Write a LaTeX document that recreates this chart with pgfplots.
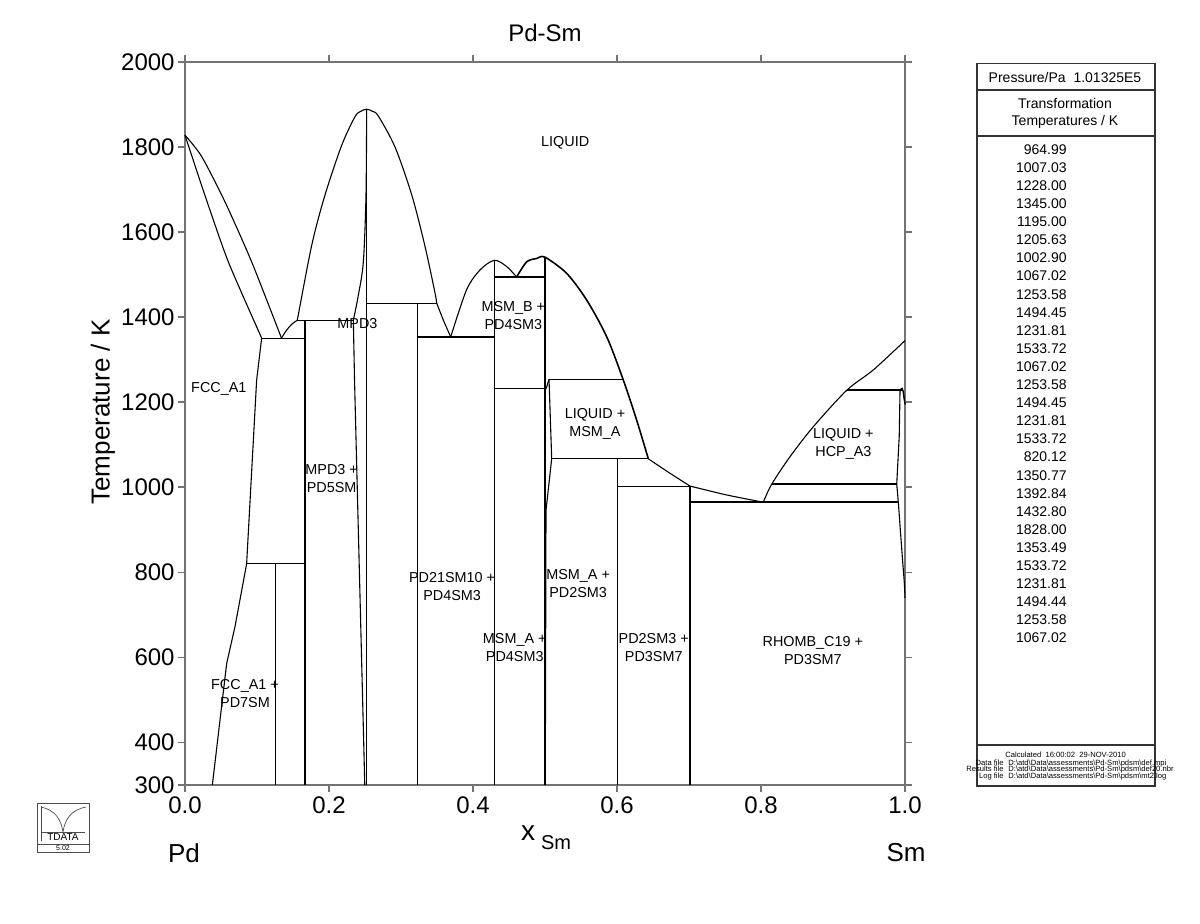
\documentclass[border=0pt]{standalone}
\usepackage{fontspec}
\setmainfont{Liberation Sans}
\usepackage{pgfplots}
\pgfplotsset{compat=1.18}
\def\bs{\textbackslash}
\tikzset{lab/.style={font=\fontsize{7.2}{9}\selectfont, align=center, inner sep=0pt}}
\begin{document}
\begin{tikzpicture}[x=1pt,y=1pt]
\useasboundingbox (-92.5,-69) rectangle (507.5,392.5);
\begin{axis}[
  at={(0,0)}, anchor=south west, scale only axis,
  width=360pt, height=361.5pt,
  xmin=0,xmax=1,ymin=300,ymax=2000,
  xtick={0,0.2,0.4,0.6,0.8,1}, xticklabels={0.0,0.2,0.4,0.6,0.8,1.0},
  ytick={300,400,600,800,1000,1200,1400,1600,1800,2000},
  yticklabels={300,400,600,800,1000,1200,1400,1600,1800,2000},
  xtick pos=both, ytick pos=both, xticklabel pos=left, yticklabel pos=left,
  tick align=outside,
  major tick length=3.5pt,
  tick style={black!55, line width=0.8pt},
  axis line style={black!55, line width=1pt},
  ticklabel style={font=\fontsize{12}{14}\selectfont, inner sep=0pt},
  xticklabel style={yshift=-2.2pt},
  yticklabel style={xshift=-1.5pt},
  clip=false,
  cycle list={{black, solid, mark=none}},
  every axis plot/.append style={black, line width=0.55pt, mark=none},
]
% --- Pd-rich side
\addplot[smooth, tension=0.4] coordinates {(0,1828) (0.0231,1778) (0.0556,1671) (0.0926,1530) (0.134,1350.77)};
\addplot[smooth, tension=0.4] coordinates {(0,1828) (0.0278,1686) (0.0602,1530) (0.1065,1350.77)};
\addplot coordinates {(0.1065,1350.77) (0.0995,1252) (0.0856,820.12) (0.0694,672) (0.0579,586) (0.038,300)};
\addplot coordinates {(0.1065,1350.77) (0.1667,1350.77)};
\addplot[smooth] coordinates {(0.134,1350.77) (0.1405,1368) (0.148,1383) (0.156,1392.84)};
\addplot coordinates {(0.0856,820.12) (0.1667,820.12)};
\addplot coordinates {(0.126,300) (0.126,820.12)};
\addplot coordinates {(0.1667,300) (0.1667,1392.84)};
\addplot coordinates {(0.156,1392.84) (0.2338,1392.84)};
% MPD3 dome
\addplot[smooth, tension=0.5] coordinates {(0.156,1392.84) (0.176,1569) (0.1944,1687) (0.2176,1804) (0.236,1871) (0.244,1884) (0.2523,1889) (0.2605,1884) (0.2685,1873) (0.2917,1800) (0.315,1687) (0.333,1569) (0.347,1459) (0.3496,1432.8)};
\addplot[smooth] coordinates {(0.2523,1889) (0.2514,1687) (0.2477,1530) (0.2407,1451) (0.2338,1392.84)};
\addplot coordinates {(0.2338,1392.84) (0.2355,1250) (0.2497,300)};
\addplot coordinates {(0.2523,300) (0.2523,1889)};
\addplot coordinates {(0.2523,1432.8) (0.3496,1432.8)};
\addplot coordinates {(0.3235,300) (0.3235,1432.8)};
\addplot coordinates {(0.3496,1432.8) (0.3588,1393) (0.369,1353.49)};
\addplot coordinates {(0.3235,1353.49) (0.4296,1353.49)};
% Pd4Sm3
\addplot[smooth] coordinates {(0.369,1353.49) (0.391,1464) (0.4097,1511) (0.4296,1533.72) (0.4468,1519) (0.4606,1494.45)};
\addplot coordinates {(0.4296,300) (0.4296,1533.72)};
\addplot coordinates {(0.4296,1494.45) (0.5,1494.45)};
\addplot coordinates {(0.4296,1231.81) (0.5,1231.81)};
% PdSm
\addplot[smooth, line width=0.8pt] coordinates {(0.4606,1494.45) (0.4745,1530) (0.4884,1538) (0.5,1541) (0.5301,1503) (0.558,1440) (0.5857,1354) (0.6088,1252) (0.6273,1158) (0.6435,1067.02)};
\addplot[line width=1pt] coordinates {(0.5,300) (0.5,1541)};
\addplot[line width=0.8pt] coordinates {(0.5056,1253.58) (0.6088,1253.58)};
\addplot coordinates {(0.5015,1231.81) (0.5056,1253.58)};
\addplot coordinates {(0.5056,1253.58) (0.5093,1067.02) (0.5014,946) (0.5004,300)};
\addplot[line width=0.7pt] coordinates {(0.5093,1067.02) (0.6435,1067.02)};
\addplot coordinates {(0.601,300) (0.601,1067.02)};
\addplot[smooth] coordinates {(0.6435,1067.02) (0.6736,1033) (0.7014,1002.9)};
\addplot coordinates {(0.601,1002.9) (0.7014,1002.9)};
\addplot coordinates {(0.7014,300) (0.7014,1002.9)};
\addplot[smooth] coordinates {(0.7014,1002.9) (0.7523,982) (0.8032,964.99)};
% Sm-rich side
\addplot[line width=0.9pt] coordinates {(0.7014,964.99) (0.9907,964.99)};
\addplot[smooth] coordinates {(0.8032,964.99) (0.8148,1007.03) (0.8403,1072) (0.8727,1142.5) (0.919,1228) (0.956,1276) (1,1345)};
\addplot[line width=0.9pt] coordinates {(0.8148,1007.03) (0.9885,1007.03)};
\addplot[line width=0.9pt] coordinates {(0.919,1228) (0.9977,1228)};
\addplot coordinates {(0.9931,1228) (0.992,1120) (0.9885,1007.03)};
\addplot[smooth] coordinates {(0.9931,1228) (0.9962,1233) (0.9985,1212) (1,1195)};
\addplot coordinates {(0.9977,1228) (0.9988,1210) (1,1195)};
\addplot[smooth] coordinates {(0.9885,1007.03) (0.9907,964.99) (0.9935,900) (0.997,820) (0.9991,774) (1,740)};
% labels
\node[lab] at (axis cs:0.528,1809) {LIQUID};
\node[lab] at (axis cs:0.2395,1385) {MPD3};
\node[lab] at (axis cs:0.047,1231) {FCC\_A1};
\node[lab] at (axis cs:0.2037,1020) {MPD3 +\\PD5SM};
\node[lab] at (axis cs:0.0833,514) {FCC\_A1 +\\PD7SM};
\node[lab] at (axis cs:0.456,1405) {MSM\_B +\\PD4SM3};
\node[lab] at (axis cs:0.5694,1149) {LIQUID +\\MSM\_A};
\node[lab] at (axis cs:0.371,766) {PD21SM10 +\\PD4SM3};
\node[lab] at (axis cs:0.458,623) {MSM\_A +\\PD4SM3};
\node[lab] at (axis cs:0.546,773) {MSM\_A +\\PD2SM3};
\node[lab] at (axis cs:0.651,624) {PD2SM3 +\\PD3SM7};
\node[lab] at (axis cs:0.872,617) {RHOMB\_C19 +\\PD3SM7};
\node[lab] at (axis cs:0.9144,1102) {LIQUID +\\HCP\_A3};
\end{axis}
% titles
\node[font=\fontsize{12}{14}\selectfont] at (180,376) {Pd-Sm};
\node[font=\fontsize{13}{15}\selectfont, rotate=90] at (-41,186.5) {Temperature / K};
\node[font=\fontsize{14}{16}\selectfont] at (171.5,-24) {x};
\node[font=\fontsize{10}{12}\selectfont] at (185.5,-29) {Sm};
\node[font=\fontsize{13}{15}\selectfont] at (-0.5,-34) {Pd};
\node[font=\fontsize{13}{15}\selectfont] at (360.5,-34) {Sm};
% right panel
\draw[line width=0.6pt, black!80] (396,-0.5) rectangle (485,360.8);
\draw[line width=0.6pt, black!80] (396,347.5) -- (485,347.5);
\draw[line width=0.6pt, black!80] (396,324.5) -- (485,324.5);
\draw[line width=0.6pt, black!80] (396,20) -- (485,20);
\node[font=\fontsize{7}{8.5}\selectfont] at (440,354) {Pressure/Pa\ \ 1.01325E5};
\node[font=\fontsize{7}{8.5}\selectfont, align=center] at (440,336) {Transformation\\Temperatures / K};
\foreach \v [count=\i] in {964.99,1007.03,1228.00,1345.00,1195.00,1205.63,1002.90,1067.02,1253.58,1494.45,1231.81,1533.72,1067.02,1253.58,1494.45,1231.81,1533.72,820.12,1350.77,1392.84,1432.80,1828.00,1353.49,1533.72,1231.81,1494.44,1253.58,1067.02}
  \node[font=\fontsize{7}{8.5}\selectfont, anchor=base east, inner sep=0pt] at (441,{315.4-(\i-1)*9.05}) {\v};
\begin{scope}[every node/.style={font=\fontsize{3.8}{4.2}\selectfont, inner sep=0pt}]
\node[anchor=base west] at (410,13.7) {Calculated\ \ 16:00:02\ \ 29-NOV-2010};
\node[anchor=base east] at (409.5,9.8) {Data file};
\node[anchor=base west] at (411.5,9.8) {D:\bs atd\bs Data\bs assessments\bs Pd-Sm\bs pdsm\bs def.mpi};
\node[anchor=base east] at (409.5,6.7) {Results file};
\node[anchor=base west] at (411.5,6.7) {D:\bs atd\bs Data\bs assessments\bs Pd-Sm\bs pdsm\bs def20.nbr};
\node[anchor=base east] at (409.5,3.3) {Log file};
\node[anchor=base west] at (411.5,3.3) {D:\bs atd\bs Data\bs assessments\bs Pd-Sm\bs pdsm\bs mt2.log};
\end{scope}
% logo
\draw[line width=0.35pt, black!70] (-74,-9) rectangle (-48,-29.5);
\draw[line width=0.35pt, black!70] (-74,-29.5) rectangle (-48,-33.5);
\node[font=\fontsize{3.5}{4}\selectfont, inner sep=0pt] at (-61,-31.5) {5.02};
\draw[line width=0.35pt, black!70] (-72,-10.5) -- (-72,-28);
\draw[line width=0.35pt, black!70] (-72,-11) .. controls (-65,-12.5) and (-62,-17) .. (-61,-23.5) .. controls (-60,-17) and (-57,-12.5) .. (-49.5,-11);
\draw[line width=0.35pt, black!70] (-71.5,-23.5) -- (-50,-23.5);
\node[font=\fontsize{5}{6}\selectfont, inner sep=0pt] at (-61,-26) {TDATA};
\end{tikzpicture}
\end{document}
